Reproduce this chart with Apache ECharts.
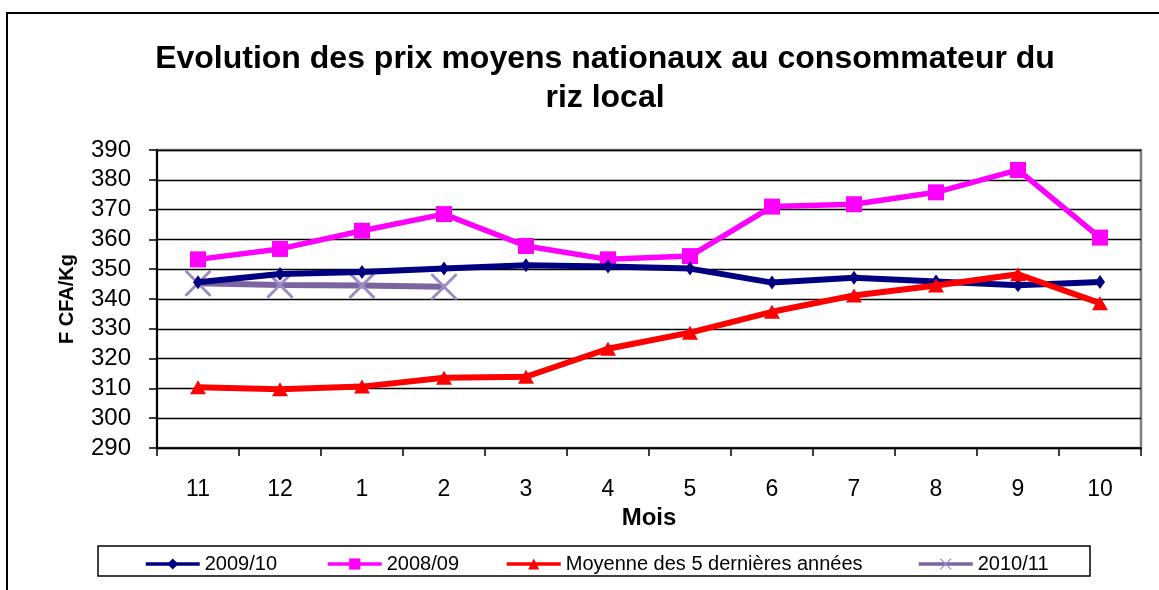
<!DOCTYPE html>
<html>
<head>
<meta charset="utf-8">
<script src="https://cdn.jsdelivr.net/npm/echarts@6/dist/echarts.min.js"></script>
<style>html,body{margin:0;padding:0;background:#fff;}#c{width:1159px;height:590px;}</style>
</head>
<body>
<div id="c"></div>
<script>
var months = ['11','12','1','2','3','4','5','6','7','8','9','10'];
var s2009_10 = [345.6, 348.4, 349.1, 350.2, 351.3, 350.9, 350.2, 345.5, 347.1, 345.9, 344.6, 345.7];
var s2008_09 = [353.3, 356.8, 362.9, 368.5, 357.8, 353.3, 354.4, 371.0, 371.8, 375.8, 383.3, 360.6];
var sMoyenne = [310.4, 309.7, 310.6, 313.6, 313.9, 323.3, 328.7, 335.7, 341.2, 344.5, 348.3, 338.6];
var s2010_11 = [345.3, 344.7, 344.5, 344.1];
var yTicks = { min: 290, max: 390, interval: 10 };

var FONT = '"Liberation Sans", Arial, sans-serif';
var xPath = 'path://M0,0 L0.8,0 L10,9.2 L10,10 L9.2,10 L0,0.8 Z M9.2,0 L10,0 L10,0.8 L0.8,10 L0,10 L0,9.2 Z';

var names = ['2009/10', '2008/09', 'Moyenne des 5 dernières années', '2010/11'];
var legendLeft = [144, 326, 505, 917];

var chart = echarts.init(document.getElementById('c'));
var legends = names.map(function (n, i) {
  return {
    data: [n], left: legendLeft[i], top: 554, itemWidth: 54, itemHeight: 14, padding: 0,
    lineStyle: { width: 3.5 },
    textStyle: { fontFamily: FONT, fontSize: 20, color: '#000' }
  };
});

chart.setOption({
  animation: false,
  backgroundColor: '#fff',
  title: {
    text: 'Evolution des prix moyens nationaux au consommateur du\nriz local',
    left: 600, top: 35,
    textAlign: 'center',
    textStyle: { fontFamily: FONT, fontSize: 32, fontWeight: 'bold', color: '#000', lineHeight: 39, align: 'center' }
  },
  graphic: [
    { type: 'rect', shape: { x: 7, y: 13, width: 1300, height: 700 }, style: { fill: 'none', stroke: '#000', lineWidth: 2 }, z: -1 },
    { type: 'rect', shape: { x: 98, y: 546, width: 992, height: 30 }, style: { fill: 'none', stroke: '#000', lineWidth: 1.5 } }
  ],
  legend: legends,
  grid: { left: 157, right: 18, top: 150, bottom: 142, show: true, borderColor: '#808080', borderWidth: 2.5, containLabel: false },
  xAxis: {
    type: 'category', data: months, boundaryGap: true,
    name: 'Mois', nameLocation: 'middle', nameGap: 55,
    nameTextStyle: { fontFamily: FONT, fontSize: 24, fontWeight: 'bold', color: '#000' },
    axisLine: { lineStyle: { color: '#000', width: 1.5 } },
    axisTick: { show: true, length: 8, inside: false, alignWithLabel: false, lineStyle: { color: '#000', width: 1.5 } },
    axisLabel: { fontFamily: FONT, fontSize: 23, color: '#000', margin: 30 },
    splitLine: { show: false }
  },
  yAxis: {
    type: 'value', min: yTicks.min, max: yTicks.max, interval: yTicks.interval,
    name: 'F CFA/Kg', nameLocation: 'middle', nameGap: 80, nameRotate: 90,
    nameTextStyle: { fontFamily: FONT, fontSize: 20, fontWeight: 'bold', color: '#000' },
    axisLine: { show: true, lineStyle: { color: '#000', width: 2 } },
    axisTick: { show: true, length: 8, lineStyle: { color: '#000', width: 1.5 } },
    axisLabel: { fontFamily: FONT, fontSize: 24, color: '#000', margin: 26 },
    splitLine: { show: true, lineStyle: { color: '#000', width: 1.3 } }
  },
  series: [
    { name: names[0], type: 'line', data: s2009_10, symbol: 'diamond', symbolSize: [10, 14],
      lineStyle: { color: '#000080', width: 6 }, itemStyle: { color: '#000080' }, z: 3 },
    { name: names[1], type: 'line', data: s2008_09, symbol: 'rect', symbolSize: 16,
      lineStyle: { color: '#ff00ff', width: 5.5 }, itemStyle: { color: '#ff00ff' }, z: 2 },
    { name: names[2], type: 'line', data: sMoyenne, symbol: 'triangle', symbolSize: [16, 14],
      lineStyle: { color: '#ff0000', width: 6 }, itemStyle: { color: '#ff0000' }, z: 4 },
    { name: names[3], type: 'line', data: s2010_11, symbol: xPath, symbolSize: 26,
      lineStyle: { color: '#7b64a0', width: 6 }, itemStyle: { color: '#9c8cc6' }, z: 1 }
  ]
});
</script>
</body>
</html>
